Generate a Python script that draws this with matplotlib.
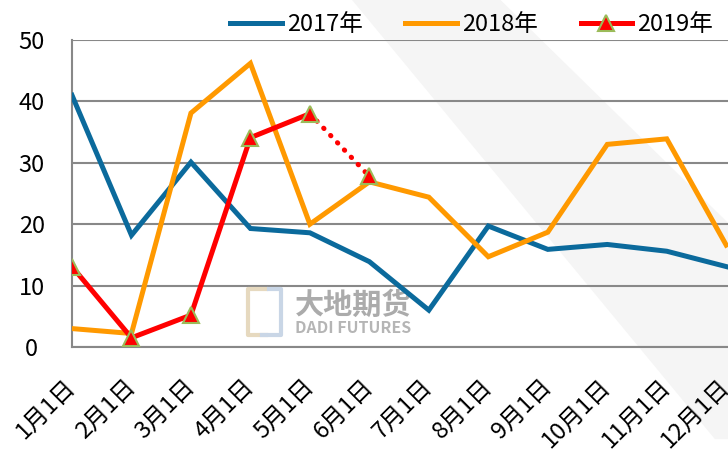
import matplotlib
matplotlib.use("Agg")
import matplotlib.pyplot as plt
from matplotlib.lines import Line2D
from matplotlib.patches import Polygon

plt.rcParams['font.family'] = ['Noto Sans CJK SC', 'DejaVu Sans']

months = ["1月1日", "2月1日", "3月1日", "4月1日", "5月1日", "6月1日",
          "7月1日", "8月1日", "9月1日", "10月1日", "11月1日", "12月1日"]
s2017 = [41.0, 18.2, 30.1, 19.3, 18.6, 13.9, 6.0, 19.7, 15.9, 16.7, 15.6, 13.1]
s2018 = [3.0, 2.2, 38.1, 46.2, 20.0, 26.9, 24.4, 14.7, 18.7, 33.0, 33.9, 16.6]
s2019 = [13.1, 1.5, 5.2, 34.1, 38.0, 27.8]
yticks = [0, 10, 20, 30, 40, 50]
legend_labels = ["2017年", "2018年", "2019年"]

c2017 = "#0B6A9C"
c2018 = "#FF9900"
c2019 = "#FF0000"
edge = "#9BBB59"

fig = plt.figure(figsize=(7.28, 4.51), dpi=100)
ax = fig.add_axes([72/728, (451-347)/451, 656/728, 307/451])

# light watermark shapes
wm = Polygon([[0.40, 1.2], [0.62, 1.2], [1.05, 0.30], [1.05, -0.3], [0.98, -0.3]],
             closed=True, transform=ax.transAxes, facecolor="#F5F5F5",
             edgecolor="none", zorder=0, clip_on=False)
ax.add_patch(wm)
# logo mark
ax.plot([0.295, 0.268, 0.268, 0.295], [0.19, 0.19, 0.04, 0.04],
        transform=ax.transAxes, color="#E6D9BF", lw=3, zorder=1)
ax.plot([0.300, 0.318, 0.318, 0.290], [0.19, 0.19, 0.04, 0.04],
        transform=ax.transAxes, color="#C9D6E6", lw=3, zorder=1)
ax.text(0.428, 0.137, "大地期货", transform=ax.transAxes, fontsize=21,
        color="#ABABAB", fontweight="bold", ha="center", va="center", zorder=1)
ax.text(0.428, 0.062, "DADI FUTURES", transform=ax.transAxes, fontsize=11.5,
        color="#B5B5B5", fontweight="bold", ha="center", va="center", zorder=1)

x = list(range(len(months)))
ax.plot(x, s2017, color=c2017, lw=3.6, zorder=3, solid_joinstyle="miter")
ax.plot(x, s2018, color=c2018, lw=3.6, zorder=3, solid_joinstyle="miter")
ax.plot(x[:5], s2019[:5], color=c2019, lw=3.6, zorder=4)
ax.plot(x[4:6], s2019[4:6], color=c2019, lw=3.6, ls=(0, (0.1, 1.9)),
        dash_capstyle="round", zorder=4)
ax.plot(x[:6], s2019, ls="none", marker="^", ms=12, mfc=c2019, mec=edge,
        mew=1.5, zorder=5)

ax.set_ylim(0, 50)
ax.set_xlim(0, 11.03)
ax.set_yticks(yticks)
ax.set_xticks(x)
ax.set_xticklabels(months, rotation=45, ha="right", va="center",
                   rotation_mode="anchor", fontsize=17)
ax.tick_params(axis="both", length=0)
ax.tick_params(axis="x", pad=26)
ax.tick_params(axis="y", labelsize=17, pad=29)
for lab in ax.get_yticklabels():
    lab.set_horizontalalignment("center")
ax.grid(axis="y", color="#888888", lw=1.5, zorder=2)
ax.set_axisbelow(True)
for s in ["top", "right"]:
    ax.spines[s].set_visible(False)
for s in ["left", "bottom"]:
    ax.spines[s].set_color("#888888")
    ax.spines[s].set_linewidth(1.5)
ax.patch.set_alpha(0)

handles = [Line2D([], [], color=c2017, lw=3.6),
           Line2D([], [], color=c2018, lw=3.6),
           Line2D([], [], color=c2019, lw=3.6, marker="^", ms=12, mfc=c2019,
                  mec=edge, mew=1.5)]
fig.legend(handles, legend_labels, loc="center", bbox_to_anchor=(0.648, 0.945),
           ncol=3, frameon=False, fontsize=17, handlelength=2.2,
           handletextpad=0.2, columnspacing=1.8, borderpad=0)

fig.savefig("out.png", dpi=100)
